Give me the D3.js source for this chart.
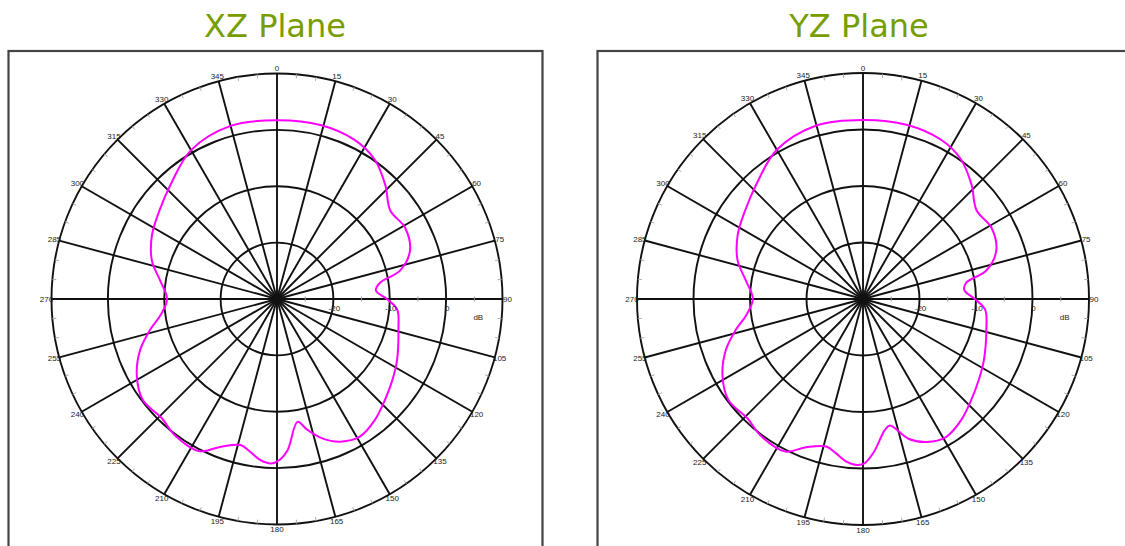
<!DOCTYPE html>
<html>
<head>
<meta charset="utf-8">
<script src="https://cdn.jsdelivr.net/npm/d3@7"></script>
<style>
  body { margin: 0; background: #fff; }
  svg { display: block; }
</style>
</head>
<body>
<svg id="chart"></svg>
<script>
const width = 1125;
const height = 546;

// pattern data: angle in degrees, gain in dB
const xzAngles = [0, 14, 26, 35, 43.5, 52, 61, 70, 77, 81, 85, 90, 95, 104, 117, 125, 133, 141, 149, 156, 162, 167, 170.5, 176, 179.5, 182, 186, 190, 194, 201, 207, 217, 224, 233, 241.5, 249.6, 256.3, 262, 270, 279, 287, 297, 307, 317, 330, 345];
const xzGain = [1.7, 1.8, 1.4, 0.2, -2.1, -4.5, -4.0, -4.9, -7.6, -11.5, -12.4, -10.5, -8.6, -7.8, -6.1, -5.0, -3.8, -2.4, -1.5, -2.3, -4.0, -6.2, -7.9, -3.1, -1.3, -0.8, -1.3, -2.5, -3.3, -1.9, 0.3, 0.2, -0.6, -0.2, -1.7, -4.1, -6.8, -9.1, -10.5, -9.0, -6.8, -5.1, -3.9, -2.3, 0.5, 1.8];

const yzAngles = [0, 14, 26, 35, 43.5, 52, 61, 70, 77, 81, 85, 90, 95, 104, 117, 125, 133, 141, 149, 156, 162, 168, 170.5, 176, 179.5, 182, 186, 190, 194, 201, 207, 217, 224, 233, 241.5, 249.6, 256.3, 262, 270, 279, 287, 297, 307, 317, 330, 345];
const yzGain = [1.7, 1.8, 1.4, 0.2, -2.1, -4.5, -4.0, -4.9, -7.6, -11.5, -12.0, -10.2, -8.3, -7.5, -6.0, -5.0, -3.8, -2.4, -1.5, -2.3, -4.0, -7.1, -6.5, -2.8, -0.9, -0.6, -1.1, -2.3, -3.1, -1.9, 0.3, 0.2, -0.6, -0.2, -1.7, -4.1, -6.8, -9.1, -10.5, -9.0, -6.8, -5.1, -3.9, -2.3, 0.5, 1.8];

const ringValues = [-20, -10, 0, 10];
const ringLabels = [-20, -10, 0];
const minorAxisTicks = [-25, -15, -5, 5];
const spokeAngles = d3.range(0, 360, 15);
const minorAngles = d3.range(0, 360, 5).filter(a => a % 15 !== 0);

const titles = ["XZ Plane", "YZ Plane"];

const svg = d3.select("#chart")
    .attr("width", width)
    .attr("height", height);

const rad = a => a * Math.PI / 180;

function drawPolar(cx, cy, R, angles, gains) {

    const r = d3.scaleLinear().domain([-30, 10]).range([0, R]);

    const g = svg.append("g")
        .attr("transform", `translate(${cx},${cy})`);

    g.selectAll("circle.ring")
        .data(ringValues)
        .enter()
        .append("circle")
        .attr("class", "ring")
        .attr("r", d => r(d))
        .attr("fill", "none")
        .attr("stroke", "#111")
        .attr("stroke-width", 1.9);

    g.selectAll("line.spoke")
        .data(spokeAngles)
        .enter()
        .append("line")
        .attr("class", "spoke")
        .attr("x1", 0)
        .attr("y1", 0)
        .attr("x2", d => Math.sin(rad(d)) * r(10))
        .attr("y2", d => -Math.cos(rad(d)) * r(10))
        .attr("stroke", "#111")
        .attr("stroke-width", 1.9);

    // dark hub where all the spokes meet
    g.append("circle")
        .attr("r", 4)
        .attr("fill", "#111");

    // little grey ticks every 5 degrees on the rim
    g.selectAll("line.minor")
        .data(minorAngles)
        .enter()
        .append("line")
        .attr("class", "minor")
        .attr("x1", d => Math.sin(rad(d)) * (r(10) - 4))
        .attr("y1", d => -Math.cos(rad(d)) * (r(10) - 4))
        .attr("x2", d => Math.sin(rad(d)) * r(10))
        .attr("y2", d => -Math.cos(rad(d)) * r(10))
        .attr("stroke", "#aaa")
        .attr("stroke-width", 1);

    g.selectAll("line.axisTick")
        .data(minorAxisTicks)
        .enter()
        .append("line")
        .attr("class", "axisTick")
        .attr("x1", d => r(d))
        .attr("x2", d => r(d))
        .attr("y1", -2.5)
        .attr("y2", 2.5)
        .attr("stroke", "#999")
        .attr("stroke-width", 1);

    const pts = angles.map((a, i) => ({ a: a, v: gains[i] }));

    const line = d3.lineRadial()
        .angle(d => rad(d.a))
        .radius(d => r(d.v))
        .curve(d3.curveCatmullRomClosed.alpha(0.5));

    g.append("path")
        .datum(pts)
        .attr("d", line)
        .attr("fill", "none")
        .attr("stroke", "#ff00ff")
        .attr("stroke-width", 2);

    g.selectAll("text.angle")
        .data(spokeAngles)
        .enter()
        .append("text")
        .attr("class", "angle")
        .attr("x", d => Math.sin(rad(d)) * (r(10) + 5))
        .attr("y", d => -Math.cos(rad(d)) * (r(10) + 5))
        .attr("text-anchor", "middle")
        .attr("dominant-baseline", "central")
        .style("font-family", "Liberation Sans, Arial, sans-serif")
        .style("font-size", "8px")
        .style("fill", "#222")
        .text(d => d);

    g.selectAll("text.db")
        .data(ringLabels)
        .enter()
        .append("text")
        .attr("class", "db")
        .attr("x", d => r(d) + 1)
        .attr("y", 9)
        .attr("text-anchor", "middle")
        .attr("dominant-baseline", "central")
        .style("font-family", "Liberation Sans, Arial, sans-serif")
        .style("font-size", "8px")
        .style("fill", "#222")
        .text(d => d);

    g.append("text")
        .attr("x", r(5) + 4)
        .attr("y", 18)
        .attr("text-anchor", "middle")
        .attr("dominant-baseline", "central")
        .style("font-family", "Liberation Sans, Arial, sans-serif")
        .style("font-size", "8px")
        .style("fill", "#222")
        .text("dB");
}

// frames around each plot
svg.append("rect")
    .attr("x", 8.5).attr("y", 51)
    .attr("width", 534).attr("height", 520)
    .attr("fill", "none")
    .attr("stroke", "#444")
    .attr("stroke-width", 2.2);

svg.append("rect")
    .attr("x", 597.5).attr("y", 51)
    .attr("width", 560).attr("height", 520)
    .attr("fill", "none")
    .attr("stroke", "#444")
    .attr("stroke-width", 2.2);

drawPolar(277, 299, 225.5, xzAngles, xzGain);
drawPolar(863, 299, 226, yzAngles, yzGain);

svg.selectAll("text.title")
    .data(titles)
    .enter()
    .append("text")
    .attr("class", "title")
    .attr("x", (d, i) => i === 0 ? 275 : 859)
    .attr("y", 37)
    .attr("text-anchor", "middle")
    .style("font-family", "DejaVu Sans, Verdana, sans-serif")
    .style("font-size", "32px")
    .style("fill", "#779d00")
    .text(d => d);
</script>
</body>
</html>
